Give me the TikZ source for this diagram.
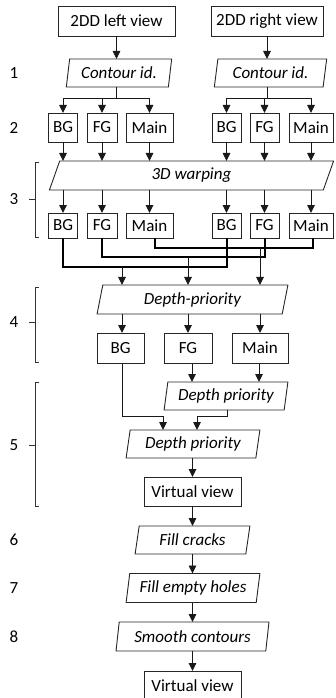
\documentclass[tikz,border=0pt]{standalone}
\usepackage{fontspec}
\setmainfont{Carlito}
\usetikzlibrary{shapes.geometric,arrows.meta}

\begin{document}
\begin{tikzpicture}[x=1pt,y=-1pt,
  font=\fontsize{17}{20}\selectfont,
  line/.style={draw=black!90, line width=0.9pt},
  arr/.style={line, -{Triangle[width=7.5pt,length=8pt]}},
  merge/.style={draw=black, line width=1.5pt},
  rbox/.style={draw=black!85, line width=0.9pt, inner sep=0pt, outer sep=0pt, rectangle},
  para/.style={draw=black!85, line width=0.9pt, inner sep=0pt, outer sep=0pt,
    trapezium, trapezium left angle=78, trapezium right angle=102,
    trapezium stretches=true, font=\fontsize{17}{20}\selectfont\itshape},
  brk/.style={draw=black!80, line width=0.8pt},
  steplabel/.style={inner sep=0pt}
]
\useasboundingbox (0,0) rectangle (336,698);

% inputs
\node[rbox, minimum width=117pt, minimum height=30pt] (top1) at (116.5,21) {2DD left view};
\node[rbox, minimum width=112pt, minimum height=30pt] (top2) at (267,21) {2DD right view};

% step 1: contour identification
\node[para, minimum width=106pt, minimum height=28pt] (c1) at (119,73) {Contour id.};
\node[para, minimum width=113pt, minimum height=28pt] (c2) at (270.5,73) {Contour id.};

% step 2: layers per view
\node[rbox, minimum width=29pt, minimum height=29pt] (bg1L) at (63,127.5) {BG};
\node[rbox, minimum width=30pt, minimum height=29pt] (fg1L) at (102,127.5) {FG};
\node[rbox, minimum width=47pt, minimum height=29pt] (mn1L) at (149.5,127.5) {Main};
\node[rbox, minimum width=29pt, minimum height=29pt] (bg1R) at (226.5,127.5) {BG};
\node[rbox, minimum width=29pt, minimum height=29pt] (fg1R) at (264.5,127.5) {FG};
\node[rbox, minimum width=44pt, minimum height=29pt] (mn1R) at (311,127.5) {Main};

% step 3: warping
\node[para, minimum width=285pt, minimum height=29pt] (warp) at (191.5,175.5) {3D warping};
\node[rbox, minimum width=29pt, minimum height=25pt] (bg2L) at (63,225.5) {BG};
\node[rbox, minimum width=30pt, minimum height=25pt] (fg2L) at (102,225.5) {FG};
\node[rbox, minimum width=47pt, minimum height=25pt] (mn2L) at (149.5,225.5) {Main};
\node[rbox, minimum width=29pt, minimum height=25pt] (bg2R) at (226.5,225.5) {BG};
\node[rbox, minimum width=29pt, minimum height=25pt] (fg2R) at (264.5,225.5) {FG};
\node[rbox, minimum width=44pt, minimum height=25pt] (mn2R) at (311,225.5) {Main};

% step 4: depth priority merge
\node[para, minimum width=191pt, minimum height=29pt] (dp) at (192.5,299.5) {Depth-priority};
\node[rbox, minimum width=47pt, minimum height=30pt] (bg4) at (120.5,348) {BG};
\node[rbox, minimum width=48pt, minimum height=30pt] (fg4) at (188,348) {FG};
\node[rbox, minimum width=56pt, minimum height=30pt] (mn4) at (260,348) {Main};

% step 5
\node[para, minimum width=124pt, minimum height=28pt] (dpA) at (226,396) {Depth priority};
\node[para, minimum width=134pt, minimum height=28pt] (dpB) at (193,444) {Depth priority};
\node[rbox, minimum width=97pt, minimum height=29pt] (vv1) at (192.5,491.5) {Virtual view};

% steps 6-8
\node[para, minimum width=115pt, minimum height=28pt] (fc) at (192.5,540) {Fill cracks};
\node[para, minimum width=134pt, minimum height=29pt] (fh) at (193,588) {Fill empty holes};
\node[para, minimum width=153pt, minimum height=29pt] (sc) at (192.5,636.5) {Smooth contours};
\node[rbox, minimum width=97pt, minimum height=29pt] (vv2) at (192.5,685.5) {Virtual view};

% step numbers
\foreach \k/\y in {1/73, 2/128, 3/199, 4/322, 5/445, 6/540, 7/588, 8/637}
  \node[steplabel] (lab\k) at (14,\y) {\k};

% braces for steps 3-5
\draw[brk] (39,162) -- (35,162) -- (35,237) -- (39,237);
\draw[brk] (35,199) -- (29,199);
\draw[brk] (39,287) -- (35,287) -- (35,362) -- (39,362);
\draw[brk] (35,322) -- (29,322);
\draw[brk] (39,382) -- (35,382) -- (35,506) -- (39,506);
\draw[brk] (35,445) -- (29,445);

% inputs to contour identification
\draw[arr] (top1.south) -- (top1.south |- c1.north);
\draw[arr] (top2.south) -- (top2.south |- c2.north);

% split into layers
\coordinate (sL) at (116.5,98);
\coordinate (sR) at (267,98);
\draw[line] (top1.south |- c1.south) -- (sL);
\draw[line] (top2.south |- c2.south) -- (sR);
\draw[line] (bg1L.north |- sL) -- (mn1L.north |- sL);
\draw[line] (bg1R.north |- sR) -- (mn1R.north |- sR);
\foreach \n in {bg1L,fg1L,mn1L}
  \draw[arr] (\n.north |- sL) -- (\n.north);
\foreach \n in {bg1R,fg1R,mn1R}
  \draw[arr] (\n.north |- sR) -- (\n.north);

% into and out of warping
\foreach \a/\b in {bg1L/bg2L, fg1L/fg2L, mn1L/mn2L, bg1R/bg2R, fg1R/fg2R, mn1R/mn2R}{
  \draw[arr] (\a.south) -- (\a.south |- warp.north);
  \draw[arr] (\a.south |- warp.south) -- (\b.north);
}

% pairing of left and right layers
\coordinate (jMN) at (260,248);
\coordinate (jFG) at (188,257);
\coordinate (jBG) at (122,267);
\draw[merge] ([xshift=5.5pt]mn2L.south) |- (jMN) -| ([xshift=2pt]mn2R.south);
\draw[merge] (fg2L.south) |- (jFG) -| ([xshift=0.5pt]fg2R.south);
\draw[merge, line width=2pt] (bg2L.south) |- (jBG) -| ([xshift=0.5pt]bg2R.south);
\draw[arr] (jMN) -- (jMN |- dp.north);
\draw[arr] (jFG) -- (jFG |- dp.north);
\draw[arr] (jBG) -- (jBG |- dp.north);

% depth priority to merged layers
\draw[arr] (jBG |- dp.south) -- (jBG |- bg4.north);
\draw[arr] (jFG |- dp.south) -- (jFG |- fg4.north);
\draw[arr] (jMN |- dp.south) -- (jMN |- mn4.north);

% step 5 merging
\coordinate (kFG) at (192,363);
\coordinate (kMN) at (259,363);
\draw[arr] (kFG) -- (kFG |- dpA.north);
\draw[arr] (kMN) -- (kMN |- dpA.north);
\coordinate (inB1) at (163,416);
\coordinate (inB2) at (197,416);
\draw[line] (jBG |- bg4.south) |- (inB1);
\draw[arr] (inB1) -- (inB1 |- dpB.north);
\draw[line] (227,410) |- (inB2);
\draw[arr] (inB2) -- (inB2 |- dpB.north);

% final chain
\draw[arr] (dpB.south -| vv1.north) -- (vv1.north);
\draw[arr] (vv1.south) -- (vv1.south |- fc.north);
\draw[arr] (vv1.south |- fc.south) -- (vv1.south |- fh.north);
\draw[arr] (vv1.south |- fh.south) -- (vv1.south |- sc.north);
\draw[arr] (vv1.south |- sc.south) -- (vv2.north);
\end{tikzpicture}
\end{document}
